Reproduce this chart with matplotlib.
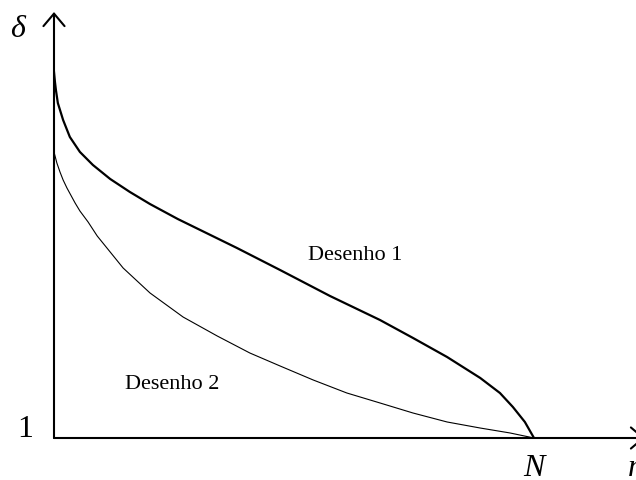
import matplotlib
matplotlib.use("Agg")
import matplotlib.pyplot as plt

# Desenho 1: n/N versus delta (thick curve)
n_d1 = [0.0, 0.002, 0.004, 0.008, 0.019, 0.033, 0.054, 0.081, 0.117,
        0.158, 0.2, 0.258, 0.381, 0.471, 0.575, 0.679, 0.748, 0.819,
        0.888, 0.929, 0.956, 0.981, 1.0]
delta_d1 = [5.0, 4.891, 4.803, 4.661, 4.475, 4.290, 4.126, 3.984, 3.831,
            3.689, 3.557, 3.393, 3.077, 2.836, 2.552, 2.290, 2.093, 1.885,
            1.656, 1.492, 1.339, 1.175, 1.0]

# Desenho 2: n/N versus delta (thin curve)
n_d2 = [0.0, 0.006, 0.0125, 0.019, 0.027, 0.044, 0.054, 0.071, 0.090,
        0.117, 0.144, 0.2, 0.269, 0.340, 0.408, 0.471, 0.540, 0.610,
        0.679, 0.748, 0.819, 0.888, 0.950, 1.0]
delta_d2 = [4.126, 4.005, 3.907, 3.820, 3.732, 3.568, 3.481, 3.361, 3.208,
            3.033, 2.858, 2.585, 2.322, 2.115, 1.929, 1.787, 1.634, 1.492,
            1.383, 1.273, 1.175, 1.109, 1.055, 1.0]

serif = "Liberation Serif"

fig = plt.figure(figsize=(6.36, 4.8), dpi=100)
# axes origin sits at pixel (54, 438); n = 1 lands at x = 534
ax = fig.add_axes([54 / 636, 42 / 480, 582 / 636, 438 / 480])
ax.set_xlim(0, 582 / 480)
ax.set_ylim(1, 1 + 438 / 91.5)
ax.axis("off")

ax.plot(n_d1, delta_d1, color="black", lw=1.6, solid_joinstyle="round")
ax.plot(n_d2, delta_d2, color="black", lw=0.8, solid_joinstyle="round")

# axis arrows
arrow = dict(arrowstyle="->,head_length=0.45,head_width=0.38",
             mutation_scale=20, lw=1.5, color="black",
             shrinkA=0, shrinkB=0)
ax.annotate("", xy=(0, 1 + 426 / 91.5), xytext=(0, 1),
            arrowprops=arrow, annotation_clip=False)
ax.annotate("", xy=(591 / 480, 1), xytext=(0, 1),
            arrowprops=arrow, annotation_clip=False)

ax.text(0.529, 2.945, "Desenho 1", family=serif, fontsize=16,
        ha="left", va="baseline")
ax.text(0.148, 1.535, "Desenho 2", family=serif, fontsize=16,
        ha="left", va="baseline")

ax.text(-0.092, 5.38, "δ", family=serif, style="italic", fontsize=23,
        ha="left", va="baseline", clip_on=False)
ax.text(-0.044, 1.01, "1", family=serif, fontsize=23,
        ha="right", va="baseline", clip_on=False)
ax.text(0.978, 0.58, "N", family=serif, style="italic", fontsize=23,
        ha="left", va="baseline", clip_on=False)
ax.text(1.196, 0.58, "n", family=serif, style="italic", fontsize=23,
        ha="left", va="baseline", clip_on=False)

fig.savefig("out.png", dpi=100)
